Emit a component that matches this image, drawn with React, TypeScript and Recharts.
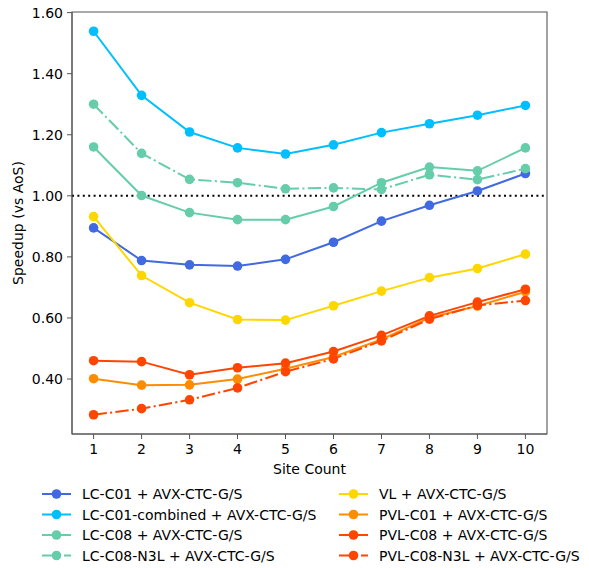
import { LineChart, Line, XAxis, YAxis, ReferenceLine, ReferenceArea, Legend } from 'recharts'

const siteCounts = [1, 2, 3, 4, 5, 6, 7, 8, 9, 10]
const lcC01 = [0.895, 0.788, 0.774, 0.770, 0.792, 0.848, 0.917, 0.969, 1.016, 1.073]
const lcC01Combined = [1.539, 1.329, 1.209, 1.157, 1.137, 1.167, 1.207, 1.236, 1.264, 1.296]
const lcC08 = [1.160, 1.001, 0.945, 0.922, 0.922, 0.965, 1.043, 1.094, 1.082, 1.157]
const lcC08N3L = [1.300, 1.139, 1.054, 1.043, 1.023, 1.026, 1.021, 1.069, 1.053, 1.089]
const vl = [0.932, 0.739, 0.650, 0.595, 0.593, 0.640, 0.688, 0.732, 0.762, 0.809]
const pvlC01 = [0.401, 0.380, 0.381, 0.400, 0.434, 0.472, 0.530, 0.601, 0.639, 0.686]
const pvlC08 = [0.460, 0.457, 0.414, 0.437, 0.452, 0.490, 0.543, 0.607, 0.652, 0.694]
const pvlC08N3L = [0.283, 0.303, 0.332, 0.371, 0.424, 0.466, 0.525, 0.596, 0.641, 0.657]
const yTicks = [0.4, 0.6, 0.8, 1.0, 1.2, 1.4, 1.6]

const DASH_DOT = '13.3 3.3 2.1 3.3'

const series = [
  { key: 'lcC01', name: 'LC-C01 + AVX-CTC-G/S', values: lcC01, color: '#4169E1', dash: undefined },
  { key: 'lcC01Combined', name: 'LC-C01-combined + AVX-CTC-G/S', values: lcC01Combined, color: '#00BFFF', dash: undefined },
  { key: 'lcC08', name: 'LC-C08 + AVX-CTC-G/S', values: lcC08, color: '#66CDAA', dash: undefined },
  { key: 'lcC08N3L', name: 'LC-C08-N3L + AVX-CTC-G/S', values: lcC08N3L, color: '#66CDAA', dash: DASH_DOT },
  { key: 'vl', name: 'VL + AVX-CTC-G/S', values: vl, color: '#FFD700', dash: undefined },
  { key: 'pvlC01', name: 'PVL-C01 + AVX-CTC-G/S', values: pvlC01, color: '#FF8C00', dash: undefined },
  { key: 'pvlC08', name: 'PVL-C08 + AVX-CTC-G/S', values: pvlC08, color: '#FF4500', dash: undefined },
  { key: 'pvlC08N3L', name: 'PVL-C08-N3L + AVX-CTC-G/S', values: pvlC08N3L, color: '#FF4500', dash: DASH_DOT },
]

const data = siteCounts.map((x, i) => {
  const row: Record<string, number> = { x }
  series.forEach((s) => {
    row[s.key] = s.values[i]
  })
  return row
})

const AXIS = '#555'

// matplotlib style legend, 2 columns of 4
const LegendBox = () => {
  const rowY = [10, 30.5, 51, 71.5]
  const cols = [
    { x0: 42, x1: 71, text: 82 },
    { x0: 339, x1: 368, text: 379 },
  ]
  return (
    <svg width={589} height={84} style={{ display: 'block' }}>
      {series.map((s, i) => {
        const c = cols[Math.floor(i / 4)]
        const y = rowY[i % 4]
        const mid = (c.x0 + c.x1) / 2
        return (
          <g key={s.key}>
            <line x1={c.x0} x2={c.x1} y1={y} y2={y} stroke={s.color} strokeWidth={2} strokeDasharray={s.dash} />
            <circle cx={mid} cy={y} r={4.8} fill={s.color} />
            <text x={c.text} y={y} dy='0.36em' fontSize={14} fill='#000'>
              {s.name}
            </text>
          </g>
        )
      })}
    </svg>
  )
}

export default function App() {
  return (
    <div style={{ position: 'absolute', left: 0, top: 0, fontFamily: 'DejaVu Sans' }}>
      <LineChart
        width={589}
        height={568}
        data={data}
        margin={{ top: 12, right: 42, left: 0, bottom: 0 }}
      >
        <XAxis
          dataKey='x'
          type='number'
          domain={[0.55, 10.45]}
          ticks={siteCounts}
          height={134}
          stroke={AXIS}
          tickSize={5}
          tickMargin={5}
          tick={{ fontSize: 14, fill: '#000' }}
          label={{ value: 'Site Count', position: 'insideTop', offset: 30, fill: '#000', fontSize: 14 }}
        />
        <YAxis
          type='number'
          domain={[0.22, 1.602]}
          ticks={yTicks}
          width={72}
          stroke={AXIS}
          tickSize={5}
          tickMargin={4}
          tickFormatter={(v: number) => v.toFixed(2)}
          tick={{ fontSize: 14, fill: '#000' }}
          label={{
            value: 'Speedup (vs AoS)',
            angle: -90,
            position: 'insideLeft',
            offset: 18,
            fill: '#000',
            fontSize: 14,
            style: { textAnchor: 'middle' },
          }}
        />
        <ReferenceArea x1={0.55} x2={10.45} y1={0.22} y2={1.602} fill='none' stroke={AXIS} strokeWidth={1.1} />
        <ReferenceLine y={1} stroke='#000' strokeWidth={2} strokeDasharray='2 3.4' />
        {series.map((s) => (
          <Line
            key={s.key}
            dataKey={s.key}
            name={s.name}
            type='linear'
            stroke={s.color}
            strokeWidth={2}
            strokeDasharray={s.dash}
            dot={{ r: 4.8, fill: s.color, stroke: 'none' }}
            activeDot={false}
            isAnimationActive={false}
          />
        ))}
        <Legend
          layout='vertical'
          align='center'
          verticalAlign='middle'
          wrapperStyle={{ left: 0, top: 484, width: 589 }}
          content={() => <LegendBox />}
        />
      </LineChart>
    </div>
  )
}
